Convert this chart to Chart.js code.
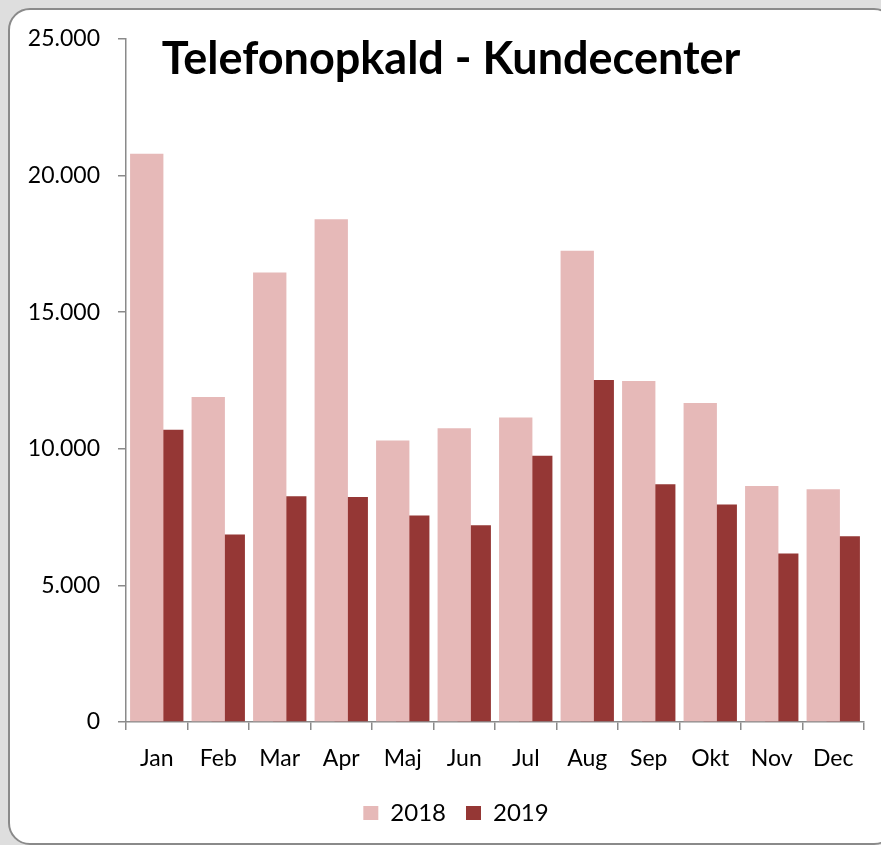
<!DOCTYPE html>
<html>
<head>
<meta charset="utf-8">
<script src="https://cdn.jsdelivr.net/npm/chart.js@4.4.1/dist/chart.umd.min.js"></script>
<style>
  html, body { margin: 0; padding: 0; background: #dedede; width: 881px; height: 845px; overflow: hidden; }
  #frame { position: absolute; left: 8px; top: 8px; width: 884px; height: 833px; background: #ffffff;
           border: 2px solid #8a8a8a; border-radius: 22px; }
  #wrap { position: absolute; left: 0; top: 0; width: 881px; height: 845px; }
</style>
</head>
<body>
<div id="frame"></div>
<div id="wrap"><canvas id="c" width="881" height="845"></canvas></div>
<script>
const titleText = "Telefonopkald - Kundecenter";
const months = ["Jan","Feb","Mar","Apr","Maj","Jun","Jul","Aug","Sep","Okt","Nov","Dec"];
const seriesNames = ["2018","2019"];
const calls2018 = [20800, 11900, 16450, 18400, 10300, 10750, 11150, 17250, 12480, 11680, 8640, 8520];
const calls2019 = [10700, 6860, 8260, 8240, 7560, 7200, 9750, 12520, 8700, 7960, 6170, 6800];
const yTicks = [0, 5000, 10000, 15000, 20000, 25000];

function fmt(v) {
  return String(v).replace(/\B(?=(\d{3})+(?!\d))/g, ".");
}

const titlePlugin = {
  id: 'overlayTitle',
  afterLayout(chart) {
    // shift legend block to be centred like the reference
    if (chart.legend) { chart.legend.left += 48; }
  },
  afterDraw(chart) {
    const ctx = chart.ctx;
    ctx.save();
    ctx.font = "bold 45px Lato";
    ctx.fillStyle = "#000000";
    ctx.textAlign = "center";
    ctx.textBaseline = "alphabetic";
    ctx.fillText(titleText, 451, 74);
    ctx.restore();
  }
};

new Chart(document.getElementById('c'), {
  type: 'bar',
  data: {
    labels: months,
    datasets: [
      { label: seriesNames[0], data: calls2018, backgroundColor: '#e6b9b8', borderWidth: 0 },
      { label: seriesNames[1], data: calls2019, backgroundColor: '#953735', borderWidth: 0 }
    ]
  },
  options: {
    responsive: false,
    animation: false,
    devicePixelRatio: 1,
    categoryPercentage: 0.651,
    barPercentage: 1.665,
    layout: { padding: { left: 0, right: 17, top: 39, bottom: 10 } },
    plugins: {
      title: { display: false },
      tooltip: { enabled: false },
      legend: {
        display: true,
        position: 'bottom',
        labels: {
          font: { family: 'Lato', size: 24 },
          color: '#000000',
          boxWidth: 15,
          boxHeight: 14,
          padding: 20,
          useBorderRadius: false
        }
      }
    },
    scales: {
      x: {
        grid: { display: true, drawOnChartArea: false, drawTicks: true, tickLength: 8, color: '#8a8a8a', lineWidth: 1.5, offset: true },
        border: { display: true, color: '#8a8a8a', width: 1.5 },
        ticks: { font: { family: 'Lato', size: 23 }, color: '#000000', padding: 15, maxRotation: 0, autoSkip: false },
        afterFit(scale) { scale.height = 59; }
      },
      y: {
        min: 0, max: 25000,
        afterBuildTicks(scale) { scale.ticks = yTicks.map(v => ({ value: v })); },
        grid: { display: true, drawOnChartArea: false, drawTicks: true, tickLength: 8, color: '#8a8a8a', lineWidth: 1.5 },
        border: { display: true, color: '#8a8a8a', width: 1.5 },
        ticks: { font: { family: 'Lato', size: 23 }, color: '#000000', padding: 18, callback: v => fmt(v) },
        afterFit(scale) { scale.width = 126; }
      }
    }
  },
  plugins: [titlePlugin]
});
</script>
</body>
</html>
